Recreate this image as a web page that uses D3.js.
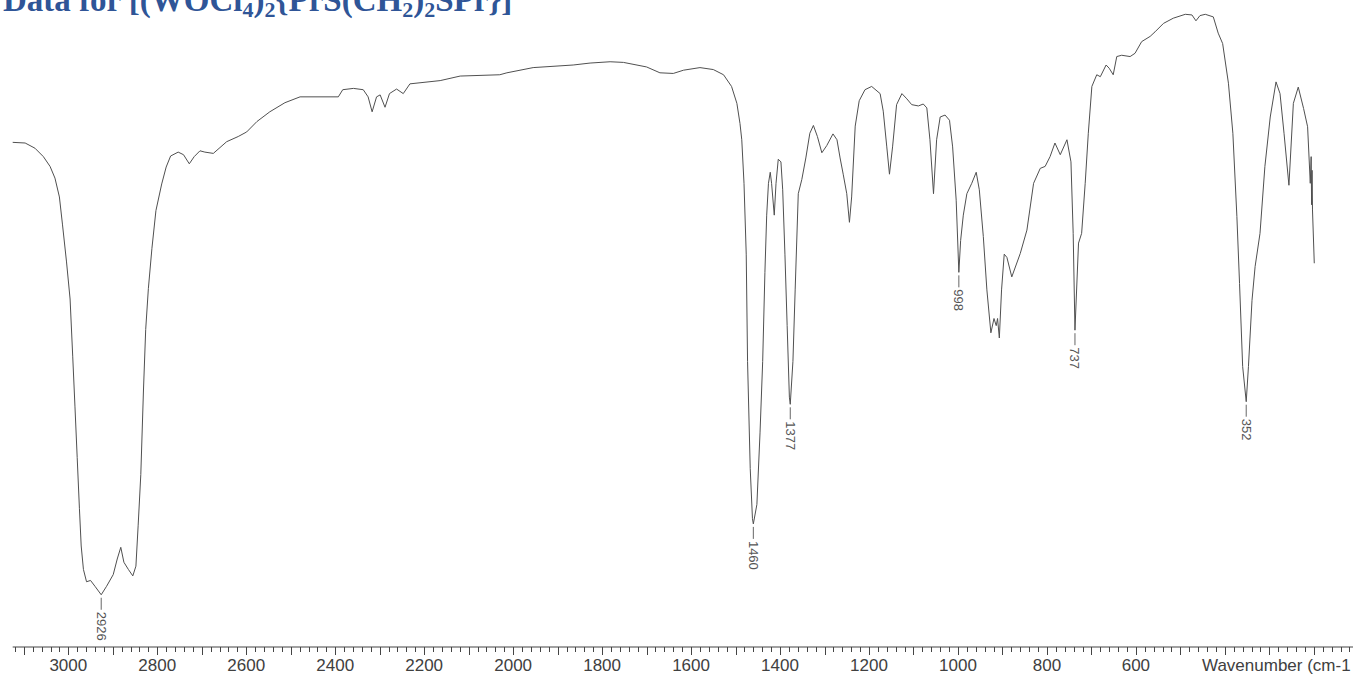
<!DOCTYPE html>
<html>
<head>
<meta charset="utf-8">
<script src="https://cdn.jsdelivr.net/npm/d3@7"></script>
<style>
  html, body { margin: 0; padding: 0; background: #fff; overflow: hidden; }
  svg { display: block; }
</style>
</head>
<body>
<svg id="chart" width="1353" height="677"></svg>
<script>
// ---- Data ----
// title pieces: [text, isSubscript]
const titleParts = [["Data for [(WOCl", false], ["4", true], [")", false], ["2", true], ["{PrS(CH", false], ["2", true], [")", false], ["2", true], ["SPr}]", false]];
// wavenumber (cm-1)
const wavenumbers = [
  3125,3097,3075,3056,3041,3030,3020,3013,3004,2996,2990,2985,2980,2975,2971,2966,2959,2950,2940,2926,
  2914,2899,2890,2882,2875,2865,2855,2848,2843,2837,2831,2826,2820,2812,2803,2790,2780,2770,2753,2741,
  2728,2717,2704,2693,2674,2659,2644,2618,2599,2576,2547,2513,2479,2393,2383,2359,2337,2326,2317,2307,
  2299,2288,2278,2262,2247,2232,2164,2119,2030,2014,1955,1865,1827,1782,1752,1700,1670,1640,1617,1580,
  1550,1527,1509,1497,1490,1486,1481,1476,1473,1467,1462,1460,1452,1445,1439,1434,1430,1426,1422,1419,
  1413,1409,1404,1398,1394,1389,1384,1379,1377,1371,1366,1359,1351,1342,1333,1325,1316,1306,1295,1281,
  1272,1265,1258,1250,1244,1239,1231,1222,1209,1194,1175,1168,1160,1154,1147,1138,1126,1115,1104,1089,
  1078,1070,1063,1055,1048,1040,1029,1019,1012,1004,998,994,988,980,969,959,952,943,935,926,
  919,914,911,907,902,896,890,879,860,845,830,815,804,793,782,770,755,746,741,737,
  729,722,714,707,699,688,680,667,660,651,643,632,613,602,587,568,557,538,516,489,
  474,465,456,444,426,415,405,392,382,373,367,360,352,347,339,332,321,310,298,285,
  276,267,256,246,235,223,214,208,206,205,204,203,199
];
// transmittance (%)
const transmittance = [
  78.1,78.0,77.2,75.9,74.4,72.6,69.7,65.4,59.7,54.0,45.1,37.4,29.6,21.8,16.0,12.4,10.5,10.7,9.8,8.5,
  9.8,11.6,14.0,15.8,13.5,12.4,11.4,12.9,19.1,27.0,40.0,49.3,55.6,61.8,67.6,71.7,74.3,76.0,76.6,76.2,
  74.8,75.9,76.8,76.6,76.4,77.3,78.2,79.0,79.7,81.3,82.8,84.2,85.1,85.1,86.2,86.4,86.2,85.1,82.8,85.1,
  85.4,83.5,85.6,86.3,85.6,87.1,87.6,88.3,88.5,88.8,89.6,90.0,90.3,90.5,90.4,89.7,88.8,88.7,89.2,89.6,
  89.3,88.5,86.7,84.1,81.0,78.5,71.8,60.9,44.4,27.9,20.2,19.4,22.4,33.4,44.4,58.1,66.9,71.8,73.5,71.8,
  66.9,71.8,75.5,75.1,70.8,60.9,49.9,38.9,37.8,44.4,55.4,70.2,72.4,75.7,79.5,80.7,79.0,76.5,77.6,79.4,
  78.5,75.7,73.2,70.2,65.8,69.7,80.6,84.5,86.2,86.7,85.6,82.9,77.4,73.2,77.4,83.9,85.6,84.8,83.9,83.7,
  84.0,83.4,78.5,70.2,78.5,82.0,82.3,81.5,77.4,69.2,58.1,63.0,66.9,70.2,71.8,73.5,70.8,63.6,55.4,48.8,
  51.0,49.9,51.0,48.0,55.4,60.9,60.4,57.4,61.0,64.6,71.8,74.1,74.4,75.9,78.0,76.2,78.5,75.1,64.1,49.2,
  62.6,64.1,71.8,79.5,86.7,88.5,88.2,90.0,89.5,88.5,91.3,91.5,91.3,91.8,93.6,94.4,95.1,96.4,97.2,97.8,
  97.7,96.8,97.6,97.8,97.4,94.9,93.3,87.2,79.5,66.7,56.4,43.6,38.2,43.6,53.8,59.0,64.1,74.4,82.0,87.4,
  85.6,79.5,71.5,84.1,86.6,83.3,80.5,71.8,75.9,68.5,73.8,67.7,59.5
];
// labelled peaks
const peakWavenumbers = [2926, 1460, 1377, 998, 737, 352];
const peakTransmittance = [8.5, 19.4, 37.8, 58.1, 49.2, 38.2];
// axis tick labels
const tickLabels = [3000, 2800, 2600, 2400, 2200, 2000, 1800, 1600, 1400, 1200, 1000, 800, 600];
const axisTitle = "Wavenumber (cm-1";

// ---- Scales ----
const svg = d3.select("#chart");
const x = d3.scaleLinear().domain([3000, 600]).range([68.3, 1135.9]);
const y = d3.scaleLinear().domain([0, 100]).range([650, 0]);
const axisY = 647;

// ---- Title (partly clipped at the top, as in the reference) ----
const title = svg.append("text")
  .attr("x", 3).attr("y", 11)
  .attr("font-family", "'Liberation Serif', 'Times New Roman', serif")
  .attr("font-weight", "bold")
  .attr("font-size", 33)
  .attr("fill", "#2F5597");
titleParts.forEach(([t, sub], i) => {
  const prevSub = i > 0 && titleParts[i - 1][1];
  let dy = 0;
  if (sub && !prevSub) dy = 6;
  else if (!sub && prevSub) dy = -6;
  const ts = title.append("tspan").text(t).attr("dy", dy);
  if (sub) ts.attr("font-size", 22);
});

// ---- Spectrum line ----
const data = wavenumbers.map((w, i) => ({ w, t: transmittance[i] }));
svg.append("path")
  .datum(data)
  .attr("fill", "none")
  .attr("stroke", "#505050")
  .attr("stroke-width", 1)
  .attr("stroke-linejoin", "round")
  .attr("d", d3.line().x(d => x(d.w)).y(d => y(d.t)));

// ---- Peak labels ----
const peaks = peakWavenumbers.map((w, i) => ({ w, t: peakTransmittance[i] }));
const pg = svg.append("g");
peaks.forEach(p => {
  const px = x(p.w), py = y(p.t);
  pg.append("line")
    .attr("x1", px).attr("x2", px)
    .attr("y1", py + 3).attr("y2", py + 15)
    .attr("stroke", "#666").attr("stroke-width", 1);
  pg.append("text")
    .attr("transform", `translate(${px},${py + 17}) rotate(90)`)
    .attr("dy", "0.35em")
    .attr("font-family", "'Liberation Sans', Arial, sans-serif")
    .attr("font-size", 13)
    .attr("fill", "#555")
    .text(p.w);
});

// ---- X axis ----
const ag = svg.append("g");
ag.append("line")
  .attr("x1", x(3125)).attr("x2", 1353)
  .attr("y1", axisY).attr("y2", axisY)
  .attr("stroke", "#444").attr("stroke-width", 1);
const minorTicks = d3.range(3120, 100, -20);
ag.selectAll("line.tick").data(minorTicks).enter().append("line")
  .attr("class", "tick")
  .attr("x1", d => Math.round(x(d)) + 0.5).attr("x2", d => Math.round(x(d)) + 0.5)
  .attr("y1", axisY).attr("y2", d => axisY + (d % 100 === 0 ? 8 : 5))
  .attr("stroke", "#444").attr("stroke-width", 1);
ag.selectAll("text.tl").data(tickLabels).enter().append("text")
  .attr("class", "tl")
  .attr("x", d => x(d)).attr("y", 671)
  .attr("text-anchor", "middle")
  .attr("font-family", "'Liberation Sans', Arial, sans-serif")
  .attr("font-size", 17)
  .attr("fill", "#404040")
  .text(d => d);
ag.append("text")
  .attr("x", 1202).attr("y", 671)
  .attr("font-family", "'Liberation Sans', Arial, sans-serif")
  .attr("font-size", 17)
  .attr("fill", "#404040")
  .text(axisTitle);
</script>
</body>
</html>
